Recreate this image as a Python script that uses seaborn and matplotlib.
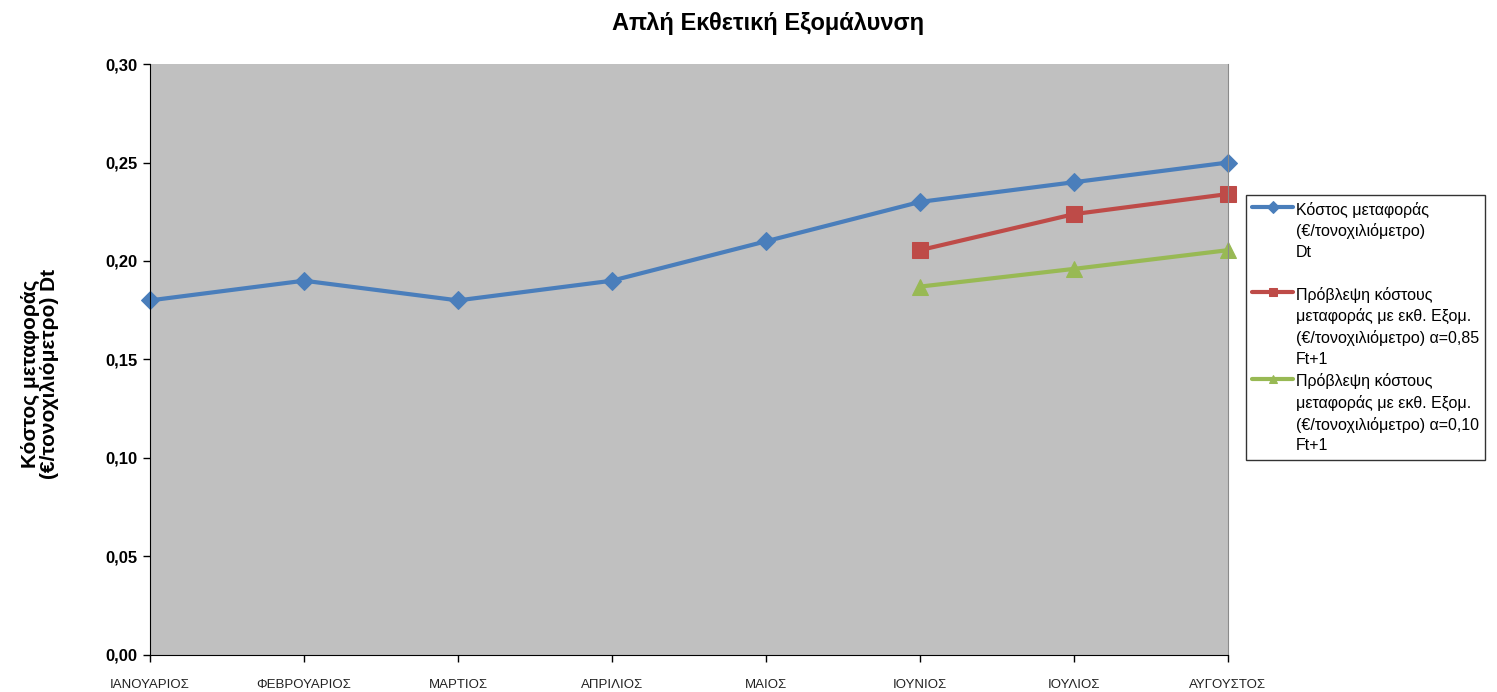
import pandas as pd
import matplotlib.pyplot as plt
import seaborn as sns
import numpy as np
from matplotlib.ticker import FuncFormatter

# === Data ===
months = ["ΙΑΝΟΥΑΡΙΟΣ", "ΦΕΒΡΟΥΑΡΙΟΣ", "ΜΑΡΤΙΟΣ", "ΑΠΡΙΛΙΟΣ",
          "ΜΑΙΟΣ", "ΙΟΥΝΙΟΣ", "ΙΟΥΛΙΟΣ", "ΑΥΓΟΥΣΤΟΣ"]
cost_dt = [0.18, 0.19, 0.18, 0.19, 0.21, 0.23, 0.24, 0.25]
forecast_months = ["ΙΟΥΝΙΟΣ", "ΙΟΥΛΙΟΣ", "ΑΥΓΟΥΣΤΟΣ"]
forecast_a085 = [0.2055, 0.2238, 0.2340]
forecast_a010 = [0.1870, 0.1960, 0.2055]

labels = [
    "Κόστος μεταφοράς\n(€/τονοχιλιόμετρο)\nDt\n ",
    "Πρόβλεψη κόστους\nμεταφοράς με εκθ. Εξομ.\n(€/τονοχιλιόμετρο) α=0,85\nFt+1",
    "Πρόβλεψη κόστους\nμεταφοράς με εκθ. Εξομ.\n(€/τονοχιλιόμετρο) α=0,10\nFt+1",
]
colors = ["#4a7ebb", "#be4b48", "#98b954"]

sns.set_style("ticks")
plt.rcParams['font.family'] = ['Liberation Sans', 'DejaVu Sans']
plt.rcParams['text.color'] = 'black'
plt.rcParams['xtick.color'] = 'black'
plt.rcParams['ytick.color'] = 'black'

# === Long-form tables ===
df_dt = pd.DataFrame({"pos": [months.index(m) for m in months], "value": cost_dt})
df_85 = pd.DataFrame({"pos": [months.index(m) for m in forecast_months], "value": forecast_a085})
df_10 = pd.DataFrame({"pos": [months.index(m) for m in forecast_months], "value": forecast_a010})

# === Plot ===
fig = plt.figure(figsize=(14.97, 6.92), dpi=100)
ax = fig.add_axes([0.1002, 0.0535, 0.7201, 0.854])
ax.set_facecolor("#c0c0c0")

sns.lineplot(data=df_dt, x="pos", y="value", ax=ax, color=colors[0], lw=3,
             marker="D", markersize=9, markeredgecolor=colors[0], label=labels[0])
sns.lineplot(data=df_85, x="pos", y="value", ax=ax, color=colors[1], lw=3,
             marker="s", markersize=11, markeredgecolor=colors[1], label=labels[1])
sns.lineplot(data=df_10, x="pos", y="value", ax=ax, color=colors[2], lw=3,
             marker="^", markersize=11, markeredgecolor=colors[2], label=labels[2])

for line in ax.lines:
    line.set_clip_on(False)

# === Axes ===
ax.set_xlim(0, len(months) - 1)
ax.set_ylim(0, 0.30)
ax.set_xticks(range(len(months)))
ax.set_xticklabels(months, fontsize=9.5, color="#222222")
ax.set_yticks(np.arange(0, 0.31, 0.05))
ax.yaxis.set_major_formatter(FuncFormatter(lambda v, p: f"{v:.2f}".replace(".", ",")))
for t in ax.get_yticklabels():
    t.set_fontweight("bold")
    t.set_fontsize(12)
ax.tick_params(axis="x", length=5, width=1, color="black", pad=12)
ax.tick_params(axis="y", length=5, width=1, color="black", pad=4)
ax.set_xlabel("")
ax.set_ylabel("")
ax.spines["top"].set_visible(False)
ax.spines["right"].set_color("#8a8a8a")
ax.spines["right"].set_linewidth(0.8)
ax.spines["left"].set_color("black")
ax.spines["bottom"].set_color("black")

# === Title and labels ===
fig.text(0.513, 0.966, "Απλή Εκθετική Εξομάλυνση", ha="center", va="center",
         fontsize=17, fontweight="bold")
fig.text(0.027, 0.46, "Κόστος μεταφοράς\n(€/τονοχιλιόμετρο) Dt", ha="center", va="center",
         rotation=90, fontsize=15, fontweight="bold", linespacing=1.0)

# === Legend ===
leg = ax.legend(loc="upper left", bbox_to_anchor=(0.832, 0.718), bbox_transform=fig.transFigure,
                frameon=True, fancybox=False, fontsize=11.5, handlelength=2.6,
                handletextpad=0.15, borderpad=0.4, labelspacing=0.4, borderaxespad=0)
leg.get_frame().set_edgecolor("black")
leg.get_frame().set_linewidth(1)
for h in leg.legend_handles:
    h.set_markersize(6)
for t in leg.get_texts():
    t.set_linespacing(1.45)
# put each handle next to the first line of its label
for col in leg._legend_handle_box.get_children():
    for row in col.get_children():
        row.align = "top"

plt.savefig("out.png", dpi=100)
plt.close()
